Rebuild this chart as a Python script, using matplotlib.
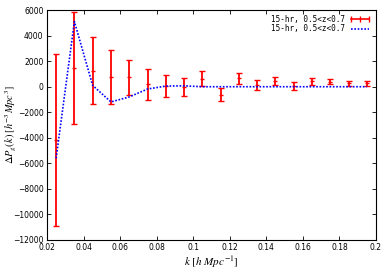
import matplotlib
matplotlib.use("Agg")
import matplotlib.pyplot as plt
from matplotlib.lines import Line2D
import numpy as np

plt.rcParams["mathtext.fontset"] = "stix"

k = [0.025, 0.035, 0.045, 0.055, 0.065, 0.075, 0.085, 0.095, 0.105, 0.115,
     0.125, 0.135, 0.145, 0.155, 0.165, 0.175, 0.185, 0.195]
dP = [-4150, 1450, 1260, 790, 725, 207, 50, 0, 620, -620,
      650, 130, 440, 50, 415, 390, 285, 260]
err = [6750, 4400, 2600, 2110, 1400, 1218, 830, 700, 600, 520,
       410, 360, 320, 290, 250, 210, 200, 190]
model = [-5600, 5100, 100, -1190, -800, -180, 50, 70, 0, 0,
         0, 0, 0, 0, 0, 0, 0, 0]

label = "15-hr, 0.5<z<0.7"
xticks = [0.02, 0.04, 0.06, 0.08, 0.1, 0.12, 0.14, 0.16, 0.18, 0.2]
xticklabels = ["0.02", "0.04", "0.06", "0.08", "0.1", "0.12", "0.14", "0.16", "0.18", "0.2"]
yticks = [-12000, -10000, -8000, -6000, -4000, -2000, 0, 2000, 4000, 6000]

fig = plt.figure(figsize=(3.9, 2.73), dpi=100)
ax = fig.add_axes([0.1205, 0.121, 0.8435, 0.842])

ax.errorbar(k, dP, yerr=err, color="red", ls="none", elinewidth=1.3, capsize=2, capthick=1,
            marker="_", ms=3, mew=1, zorder=3)
ln, = ax.plot(k, model, color="blue", ls=(0, (1, 1)), lw=1.2, zorder=4)

ax.set_xlim(0.02, 0.2)
ax.set_ylim(-12000, 6000)
ax.set_xticks(xticks)
ax.set_xticklabels(xticklabels)
ax.set_yticks(yticks)
ax.tick_params(direction="in", top=True, right=True, labelsize=5.5, length=3, width=0.6, pad=2.5)
for s in ax.spines.values():
    s.set_linewidth(0.8)

ax.set_xlabel(r"$k\ [h\ Mpc^{-1}]$", fontsize=8, labelpad=1)
ax.set_ylabel(r"$\Delta P_g(k)\ [h^{-3}Mpc^{3}]$", fontsize=7.5)
ax.yaxis.set_label_coords(-0.088, 0.5)

eb_handle = Line2D([0], [0], color="red", lw=1.2, marker="|", ms=4, mew=1)
ln_handle = Line2D([0], [0], color="blue", ls=(0, (1, 1)), lw=1.2)
leg = ax.legend([eb_handle, ln_handle], [label, label], loc="upper right", frameon=False,
                prop={"family": "DejaVu Sans Mono", "size": 5.5}, numpoints=3,
                handlelength=3, borderaxespad=0.2, labelspacing=0.1, markerfirst=False,
                handletextpad=0.5)

fig.savefig("out.png", dpi=100)
